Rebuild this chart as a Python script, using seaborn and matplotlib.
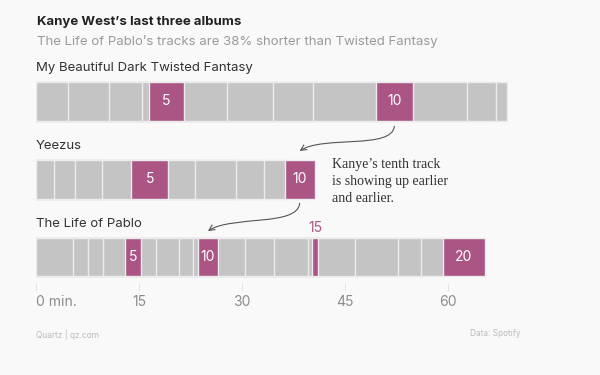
import pandas as pd
import numpy as np
import matplotlib.pyplot as plt
import seaborn as sns
from matplotlib.patches import FancyArrowPatch
from matplotlib.path import Path

# track lengths in minutes, in album order
albums = ['My Beautiful Dark Twisted Fantasy', 'Yeezus', 'The Life of Pablo']
mbdtf = [4.67, 5.95, 4.87, 1.03, 4.98, 6.3, 6.63, 5.87, 9.13, 5.45, 7.82, 4.27, 1.63]
yeezus = [2.6, 3.13, 3.85, 4.27, 5.43, 3.9, 6.0, 4.05, 2.97, 4.35]
tlop = [5.33, 2.25, 2.17, 3.27, 2.3, 2.18, 3.32, 2.05, 0.73, 2.85, 3.93, 4.2, 5.02,
        0.63, 0.8, 5.38, 6.23, 3.33, 3.22, 6.2]
highlight = [5, 10, 15, 20]
ticks = [0, 15, 30, 45, 60]
tick_labels = ['0 min.', '15', '30', '45', '60']

GREY = '#c4c4c4'
PINK = '#ab5585'
BG = '#f9f9f9'

rows = []
for name, lens in zip(albums, [mbdtf, yeezus, tlop]):
    ends = np.cumsum(lens)
    for k, (d, e) in enumerate(zip(lens, ends), start=1):
        rows.append(dict(album=name, track=k, length=d, end=e, start=e - d))
df = pd.DataFrame(rows)

sns.set_style('white')
plt.rcParams['font.family'] = ['Inter', 'DejaVu Sans']

fig = plt.figure(figsize=(6, 3.75), dpi=100, facecolor=BG)
# axes placed in pixel terms: x 36..530, y 62..283 (from top)
ax = fig.add_axes([36 / 600, (375 - 283) / 375, 494 / 600, 221 / 375])
ax.set_facecolor(BG)

# stacked look: draw cumulative bars from the last track down to the first
for k in range(df['track'].max(), 0, -1):
    sub = df[df['track'] == k]
    sns.barplot(data=sub, x='end', y='album', order=albums, orient='h',
                color=PINK if k in highlight else GREY, saturation=1,
                width=0.5, edgecolor='#ececec', linewidth=1, ax=ax)

# numbers inside highlighted tracks
for _, r in df[df['track'].isin(highlight)].iterrows():
    yi = albums.index(r['album'])
    if r['length'] < 1.5:
        ax.text(r['start'] + r['length'] / 2, yi - 0.375, str(r['track']),
                ha='center', va='center', color=PINK, fontsize=10)
    else:
        ax.text(r['start'] + r['length'] / 2, yi, str(r['track']),
                ha='center', va='center', color='white', fontsize=10)

# album names above bars
for i, name in enumerate(albums):
    ax.text(0, i - 0.43, name, ha='left', va='center', fontsize=9.5, color='#333333')

ax.set_xlim(0, 494 / 6.87)
ax.set_ylim(2 + 26 / 77.8, -0.506)
ax.set_xticks(ticks)
ax.set_xticklabels(tick_labels, fontsize=10, color='#8c8c8c')
ax.get_xticklabels()[0].set_ha('left')
ax.tick_params(axis='x', length=6, width=0.6, color='#e0e0e0', pad=3, bottom=True)
ax.set_yticks([])
ax.set_xlabel('')
ax.set_ylabel('')
sns.despine(ax=ax, left=True, bottom=True)

# curved arrows showing the tenth track moving left
def track_mid(album, k):
    r = df[(df['album'] == album) & (df['track'] == k)].iloc[0]
    return r['start'] + r['length'] / 2

x10 = [track_mid(a, 10) for a in albums]
for i, (y0, y1) in enumerate([(0.32, 0.637), (1.31, 1.666)]):
    xa, xb = x10[i], x10[i + 1]
    verts = [(xa, y0), (xa - 0.3, y0 + 0.3), (xb + 3.5, y1 - 0.2), (xb, y1)]
    path = Path(verts, [Path.MOVETO, Path.CURVE4, Path.CURVE4, Path.CURVE4])
    ax.add_artist(FancyArrowPatch(path=path, arrowstyle='->', mutation_scale=10,
                                  lw=0.8, color='#555555', transform=ax.transData))

ax.text((332 - 36) / 6.87, 1.036, 'Kanye’s tenth track\nis showing up earlier\nand earlier.',
        ha='left', va='center', fontsize=10, family=['Liberation Serif', 'DejaVu Serif'],
        color='#333333', linespacing=1.4)

fig.text(37 / 600, 1 - 22 / 375, 'Kanye West’s last three albums', fontsize=9.5,
         fontweight='bold', color='#222222', va='center')
fig.text(37 / 600, 1 - 42 / 375, 'The Life of Pablo’s tracks are 38% shorter than Twisted Fantasy',
         fontsize=9.5, color='#9a9a9a', va='center')
fig.text(36 / 600, 1 - 334 / 375, 'Quartz | qz.com', fontsize=6, color='#bbbbbb', va='center')
fig.text(520 / 600, 1 - 334 / 375, 'Data: Spotify', fontsize=6, color='#bbbbbb',
         va='center', ha='right')

fig.savefig('out.png', dpi=100, facecolor=BG)
